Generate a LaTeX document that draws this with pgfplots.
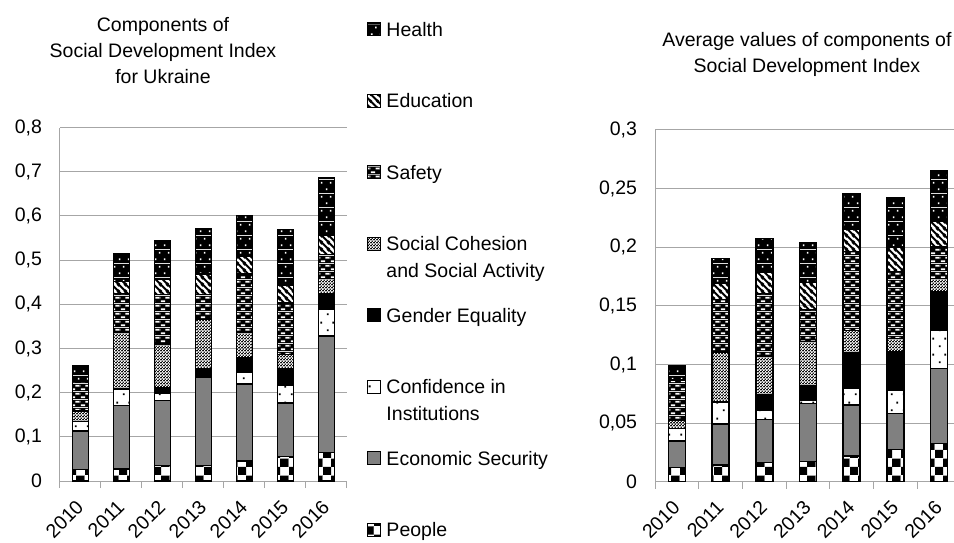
\documentclass[border=0pt]{standalone}
\usepackage{fontspec}
\setmainfont{Liberation Sans}
\usepackage{pgfplots}
\pgfplotsset{compat=1.18}
\usepackage{pgfplotstable}
\usetikzlibrary{patterns}

\definecolor{axgray}{RGB}{166,166,166}
\definecolor{econgray}{RGB}{128,128,128}

% People: checkerboard
\pgfdeclarepatterninherentlycolored{sdiChk}{\pgfpointorigin}{\pgfqpoint{17pt}{17pt}}{\pgfqpoint{17pt}{17pt}}{%
 \pgfsetfillcolor{white}\pgfpathrectangle{\pgfpointorigin}{\pgfqpoint{17pt}{17pt}}\pgfusepath{fill}%
 \pgfsetfillcolor{black}\pgfpathrectangle{\pgfpointorigin}{\pgfqpoint{8.5pt}{8.5pt}}%
 \pgfpathrectangle{\pgfqpoint{8.5pt}{8.5pt}}{\pgfqpoint{8.5pt}{8.5pt}}\pgfusepath{fill}}
% Confidence: white with sparse black dots
\pgfdeclarepatterninherentlycolored{sdiWdots}{\pgfpointorigin}{\pgfqpoint{12pt}{16pt}}{\pgfqpoint{12pt}{16pt}}{%
 \pgfsetfillcolor{white}\pgfpathrectangle{\pgfpointorigin}{\pgfqpoint{12pt}{16pt}}\pgfusepath{fill}%
 \pgfsetfillcolor{black}\pgfpathrectangle{\pgfqpoint{3pt}{4pt}}{\pgfqpoint{2pt}{2pt}}%
 \pgfpathrectangle{\pgfqpoint{9pt}{12pt}}{\pgfqpoint{2pt}{2pt}}\pgfusepath{fill}}
% Social cohesion: fine checker
\pgfdeclarepatterninherentlycolored{sdiFine}{\pgfpointorigin}{\pgfqpoint{3pt}{3pt}}{\pgfqpoint{3pt}{3pt}}{%
 \pgfsetfillcolor{black}\pgfpathrectangle{\pgfpointorigin}{\pgfqpoint{3pt}{3pt}}\pgfusepath{fill}%
 \pgfsetfillcolor{white}\pgfpathrectangle{\pgfpointorigin}{\pgfqpoint{1.5pt}{1.5pt}}%
 \pgfpathrectangle{\pgfqpoint{1.5pt}{1.5pt}}{\pgfqpoint{1.5pt}{1.5pt}}\pgfusepath{fill}}
% Safety: black with white dashes
\pgfdeclarepatterninherentlycolored{sdiDash}{\pgfpointorigin}{\pgfqpoint{10pt}{8pt}}{\pgfqpoint{10pt}{8pt}}{%
 \pgfsetfillcolor{black}\pgfpathrectangle{\pgfpointorigin}{\pgfqpoint{10pt}{8pt}}\pgfusepath{fill}%
 \pgfsetfillcolor{white}\pgfpathrectangle{\pgfqpoint{1pt}{1pt}}{\pgfqpoint{4.5pt}{1.8pt}}%
 \pgfpathrectangle{\pgfqpoint{6pt}{5pt}}{\pgfqpoint{4pt}{1.8pt}}%
 \pgfpathrectangle{\pgfqpoint{0pt}{5pt}}{\pgfqpoint{0.5pt}{1.8pt}}\pgfusepath{fill}}
% Education: white with black diagonal stripes
\pgfdeclarepatterninherentlycolored{sdiStripe}{\pgfqpoint{0pt}{0pt}}{\pgfqpoint{7pt}{7pt}}{\pgfqpoint{7pt}{7pt}}{%
 \pgfsetfillcolor{white}\pgfpathrectangle{\pgfpointorigin}{\pgfqpoint{7pt}{7pt}}\pgfusepath{fill}%
 \pgfsetstrokecolor{black}\pgfsetlinewidth{2.2pt}%
 \pgfpathmoveto{\pgfqpoint{-1pt}{8pt}}\pgfpathlineto{\pgfqpoint{8pt}{-1pt}}%
 \pgfpathmoveto{\pgfqpoint{-1pt}{1pt}}\pgfpathlineto{\pgfqpoint{1pt}{-1pt}}%
 \pgfpathmoveto{\pgfqpoint{6pt}{8pt}}\pgfpathlineto{\pgfqpoint{8pt}{6pt}}\pgfusepath{stroke}}
% Health: black with sparse white dots
\pgfdeclarepatterninherentlycolored{sdiBdots}{\pgfpointorigin}{\pgfqpoint{9pt}{14pt}}{\pgfqpoint{9pt}{14pt}}{%
 \pgfsetfillcolor{black}\pgfpathrectangle{\pgfpointorigin}{\pgfqpoint{9pt}{14pt}}\pgfusepath{fill}%
 \pgfsetfillcolor{white}\pgfpathrectangle{\pgfqpoint{2pt}{3pt}}{\pgfqpoint{1.8pt}{1.8pt}}%
 \pgfpathrectangle{\pgfqpoint{6.5pt}{10pt}}{\pgfqpoint{1.8pt}{1.8pt}}\pgfusepath{fill}}

\pgfplotstableread{
x P E C G SC S Ed H
0 0.026 0.087 0.022 0 0.023 0.068 0 0.035
1 0.027 0.144 0.036 0.002 0.128 0.087 0.028 0.063
2 0.035 0.147 0.016 0.013 0.099 0.112 0.034 0.087
3 0.035 0.200 0.005 0.014 0.112 0.056 0.046 0.103
4 0.045 0.175 0.027 0.032 0.058 0.131 0.041 0.092
5 0.056 0.121 0.040 0.037 0.032 0.117 0.040 0.126
6 0.065 0.263 0.060 0.036 0.034 0.055 0.043 0.130
}\ukraine

\pgfplotstableread{
x P E C G SC S Ed H
0 0.0122 0.0225 0.0105 0 0.0074 0.034 0 0.012
1 0.0142 0.035 0.0185 0.0005 0.0423 0.045 0.014 0.021
2 0.0165 0.0367 0.0079 0.0129 0.0327 0.054 0.0176 0.0293
3 0.0171 0.0497 0.0029 0.0119 0.0379 0.0275 0.023 0.0342
4 0.0219 0.0435 0.0142 0.0304 0.0188 0.0674 0.0191 0.0301
5 0.0276 0.0307 0.0199 0.0327 0.0114 0.0569 0.0208 0.0423
6 0.0327 0.064 0.0321 0.0333 0.0114 0.0265 0.0218 0.0433
}\average

\newcommand\legtxt[1]{\raisebox{0pt}[14pt][4pt]{\parbox[t]{200pt}{#1}}}

\pgfplotsset{
 lsq/.style={legend image code/.code={\draw[##1, line width=1pt] (0pt,0.5pt) rectangle (13pt,13.5pt);}},
 seg/.style={draw=black, line width=1.5pt, lsq},
 sdi/.style={
  scale only axis, ybar stacked,
  xmin=-0.5, xmax=6.5, ymin=0,
  xtick={0,1,2,3,4,5,6},
  xticklabels={2010,2011,2012,2013,2014,2015,2016},
  minor xtick={-0.5,0.5,1.5,2.5,3.5,4.5,5.5,6.5},
  axis x line*=bottom, axis y line*=left,
  axis line style={-, draw=axgray, line width=1pt},
  ymajorgrids, grid style={draw=axgray, line width=1pt},
  major tick length=0pt, minor tick length=7pt, tick align=outside,
  minor x tick style={draw=axgray, line width=1pt},
  ytick style={draw=none},
  tick label style={font=\fontsize{19.5}{24}\selectfont},
  /pgf/number format/assume math mode=true,
  /pgf/number format/use comma,
  yticklabel style={/pgf/number format/fixed, /pgf/number format/precision=2, xshift=-14.5pt},
  xticklabel style={xshift=-5.5pt, yshift=-17.5pt, rotate=45, anchor=north east, inner sep=0pt},
 }
}

\begin{document}
\begin{tikzpicture}[font=\fontsize{19.5}{26}\selectfont]
\useasboundingbox (0,0) rectangle (954pt,542pt);
\node[anchor=base] at (163pt,510pt) {Components of};
\node[anchor=base] at (163pt,484pt) {Social Development Index};
\node[anchor=base] at (163pt,458pt) {for Ukraine};
\node[anchor=base] at (807pt,495pt) {Average values of components of};
\node[anchor=base] at (807pt,469pt) {Social Development Index};

\begin{axis}[sdi, at={(60pt,61pt)}, anchor=south west,
  width=287pt, height=353.5pt, ymax=0.8, bar width=16pt,
  ytick={0,0.1,0.2,0.3,0.4,0.5,0.6,0.7,0.8},
  reverse legend,
  legend style={at={(axis description cs:1.0697,1.3041)}, anchor=north west,
    draw=none, fill=none, inner sep=0pt, outer sep=0pt,
    row sep=52pt, column sep=3.5pt,
    cells={anchor=base west, inner sep=0pt, outer sep=0pt},
    font=\fontsize{19.5}{27}\selectfont}]
\addplot[seg, pattern=sdiChk] table[x=x,y=P]{\ukraine};
\addlegendentry{\legtxt{People}}
\addplot[seg, fill=econgray] table[x=x,y=E]{\ukraine};
\addlegendentry{\legtxt{Economic Security}}
\addplot[seg, pattern=sdiWdots] table[x=x,y=C]{\ukraine};
\addlegendentry{\legtxt{Confidence in\\Institutions}}
\addplot[seg, fill=black] table[x=x,y=G]{\ukraine};
\addlegendentry{\legtxt{Gender Equality}}
\addplot[seg, pattern=sdiFine] table[x=x,y=SC]{\ukraine};
\addlegendentry{\legtxt{Social Cohesion\\and Social Activity}}
\addplot[seg, pattern=sdiDash] table[x=x,y=S]{\ukraine};
\addlegendentry{\legtxt{Safety}}
\addplot[seg, pattern=sdiStripe] table[x=x,y=Ed]{\ukraine};
\addlegendentry{\legtxt{Education}}
\addplot[seg, pattern=sdiBdots] table[x=x,y=H]{\ukraine};
\addlegendentry{\legtxt{Health}}
\end{axis}

\begin{axis}[sdi, at={(655pt,60.3pt)}, anchor=south west,
  width=306pt, height=351.7pt, ymax=0.3, bar width=17pt,
  ytick={0,0.05,0.1,0.15,0.2,0.25,0.3}]
\addplot[seg, pattern=sdiChk] table[x=x,y=P]{\average};
\addplot[seg, fill=econgray] table[x=x,y=E]{\average};
\addplot[seg, pattern=sdiWdots] table[x=x,y=C]{\average};
\addplot[seg, fill=black] table[x=x,y=G]{\average};
\addplot[seg, pattern=sdiFine] table[x=x,y=SC]{\average};
\addplot[seg, pattern=sdiDash] table[x=x,y=S]{\average};
\addplot[seg, pattern=sdiStripe] table[x=x,y=Ed]{\average};
\addplot[seg, pattern=sdiBdots] table[x=x,y=H]{\average};
\end{axis}
\end{tikzpicture}
\end{document}
